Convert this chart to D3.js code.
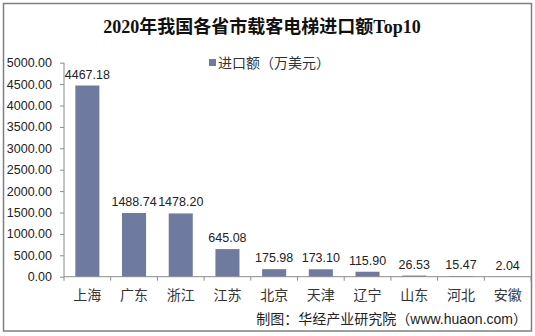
<!DOCTYPE html>
<html>
<head>
<meta charset="utf-8">
<script src="https://cdn.jsdelivr.net/npm/d3@7"></script>
<style>
  html, body { margin: 0; padding: 0; background: #fff; }
  svg { display: block; }
</style>
</head>
<body>
<svg id="chart" width="535" height="336"></svg>
<script>
// Passenger-elevator imports by province, 2020 (10k USD)
const provinces = ["上海", "广东", "浙江", "江苏", "北京", "天津", "辽宁", "山东", "河北", "安徽"];
const importValues = [4467.18, 1488.74, 1478.20, 645.08, 175.98, 173.10, 115.90, 26.53, 15.47, 2.04];
const yTickValues = [0, 500, 1000, 1500, 2000, 2500, 3000, 3500, 4000, 4500, 5000];

const titleText = "2020年我国各省市载客电梯进口额Top10";
const legendText = "进口额（万美元）";
const sourceText = "制图：华经产业研究院（www.huaon.com）";

const svg = d3.select("#chart");
const sans = "Arial, 'Liberation Sans', 'Noto Sans CJK SC', sans-serif";
const barColor = "#6f7aa1";
const axisColor = "#8c8c8c";

// outer frame
svg.append("rect")
  .attr("x", 3.5).attr("y", 3.5)
  .attr("width", 528).attr("height", 327.5)
  .attr("fill", "#fff").attr("stroke", "#7f7f7f").attr("stroke-width", 1.5);

// title
svg.append("text")
  .attr("x", 262).attr("y", 33)
  .attr("text-anchor", "middle")
  .attr("font-family", "'Liberation Serif', 'Noto Sans CJK SC', serif")
  .attr("font-weight", "bold")
  .attr("font-size", 18)
  .attr("fill", "#111")
  .text(titleText);

// legend
svg.append("rect")
  .attr("x", 209).attr("y", 59)
  .attr("width", 7).attr("height", 7)
  .attr("fill", barColor);
svg.append("text")
  .attr("x", 218).attr("y", 68)
  .attr("font-family", sans)
  .attr("font-size", 14)
  .attr("fill", "#333")
  .text(legendText);

const plot = { left: 64, right: 531, top: 62.7, bottom: 276.7 };

const x = d3.scaleBand()
  .domain(provinces)
  .range([plot.left, plot.right])
  .paddingInner(0.485)
  .paddingOuter(0.2425);

const y = d3.scaleLinear()
  .domain([0, 5000])
  .range([plot.bottom, plot.top]);

// y axis
const yAxis = svg.append("g")
  .attr("transform", `translate(${plot.left},0)`)
  .call(d3.axisLeft(y).tickValues(yTickValues).tickFormat(d3.format(".2f")).tickSize(4).tickPadding(8));
yAxis.select(".domain").attr("stroke", axisColor).attr("d", `M0,${plot.top}V${plot.bottom}`);
yAxis.selectAll(".tick line").attr("stroke", axisColor);
yAxis.selectAll(".tick text")
  .attr("font-family", sans).attr("font-size", 12.5).attr("fill", "#222");

// bars
const bandStep = (plot.right - plot.left) / provinces.length;
svg.append("g").selectAll("rect")
  .data(provinces)
  .join("rect")
  .attr("x", (d) => x(d))
  .attr("width", x.bandwidth())
  .attr("y", (d, i) => y(importValues[i]))
  .attr("height", (d, i) => plot.bottom - y(importValues[i]))
  .attr("fill", barColor);

// x axis with category separators
const xg = svg.append("g");
xg.append("line")
  .attr("x1", plot.left).attr("x2", plot.right)
  .attr("y1", plot.bottom).attr("y2", plot.bottom)
  .attr("stroke", axisColor);
xg.selectAll("line.sep")
  .data(d3.range(provinces.length + 1))
  .join("line")
  .attr("class", "sep")
  .attr("x1", (i) => plot.left + i * bandStep)
  .attr("x2", (i) => plot.left + i * bandStep)
  .attr("y1", plot.bottom).attr("y2", plot.bottom + 4)
  .attr("stroke", axisColor);
xg.selectAll("text")
  .data(provinces)
  .join("text")
  .attr("x", (d) => x(d) + x.bandwidth() / 2)
  .attr("y", 300)
  .attr("text-anchor", "middle")
  .attr("font-family", sans)
  .attr("font-size", 14)
  .attr("fill", "#333")
  .text((d) => d);

// value labels
svg.append("g").selectAll("text")
  .data(provinces)
  .join("text")
  .attr("x", (d) => x(d) + x.bandwidth() / 2)
  .attr("y", (d, i) => y(importValues[i]) - 7)
  .attr("text-anchor", "middle")
  .attr("font-family", sans)
  .attr("font-size", 12.5)
  .attr("fill", "#222")
  .text((d, i) => importValues[i].toFixed(2));

// source note
svg.append("text")
  .attr("x", 527).attr("y", 324)
  .attr("text-anchor", "end")
  .attr("font-family", sans)
  .attr("font-size", 14)
  .attr("fill", "#222")
  .text(sourceText);
</script>
</body>
</html>
